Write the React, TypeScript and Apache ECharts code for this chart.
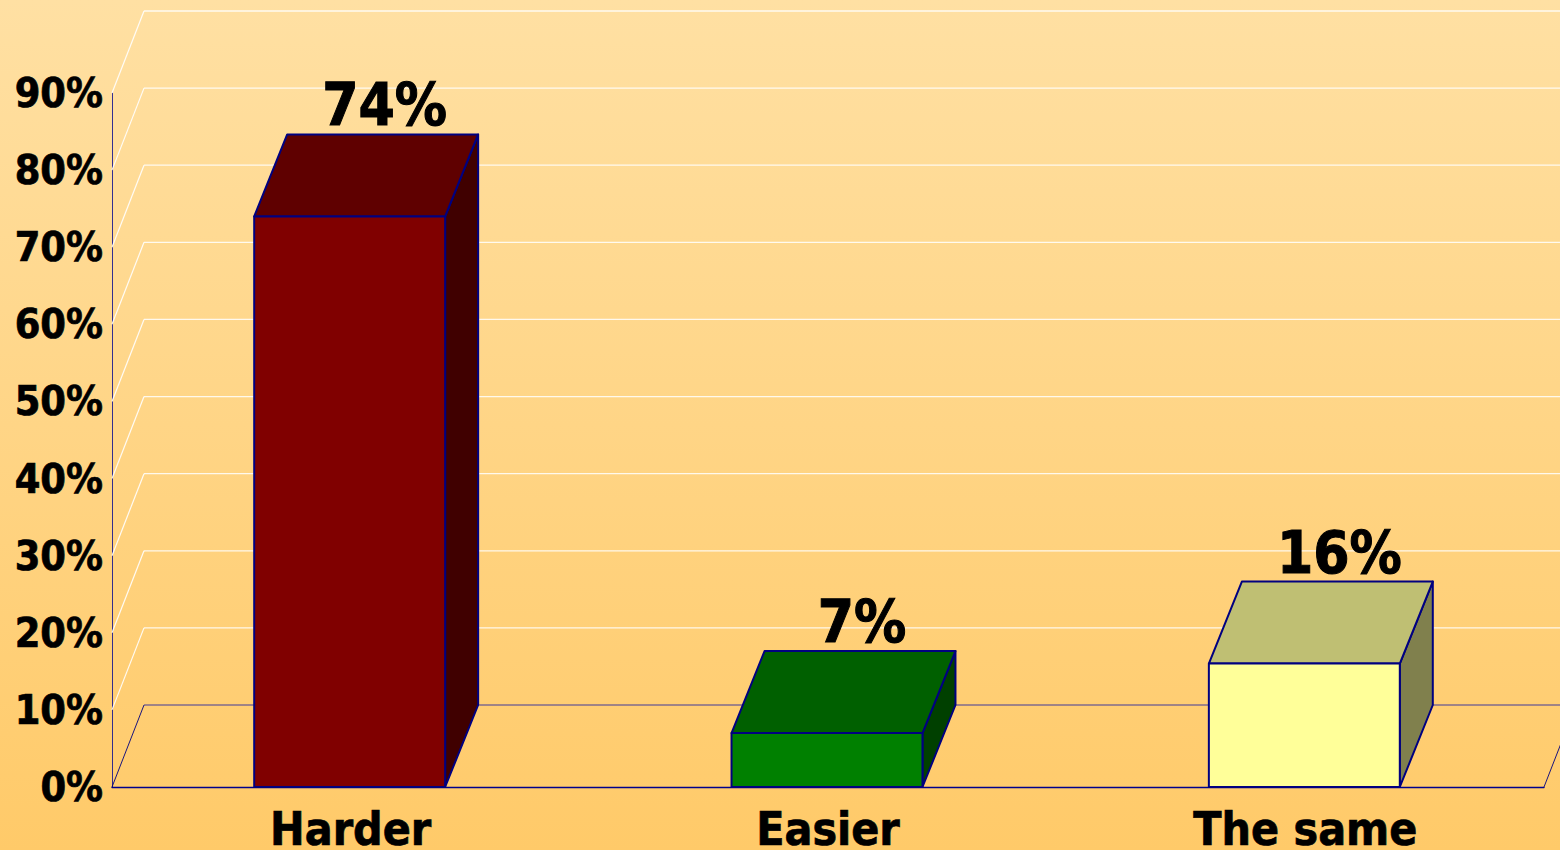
import React, { useEffect, useRef } from "react";
import * as echarts from "echarts";

const categories = ["Harder", "Easier", "The same"];
const values = [74, 7, 16];
const yTicks = [0, 10, 20, 30, 40, 50, 60, 70, 80, 90];

const frontColors = ["#800000", "#008000", "#FFFF99"];
const topColors = ["#5F0000", "#006000", "#BFBF73"];
const sideColors = ["#400000", "#004000", "#80804D"];

const NAVY = "#000080";
const FONT = "'DejaVu Sans Condensed', 'DejaVu Sans', sans-serif";
const DEPTH_X = 32;
const DEPTH_Y = 82;
const BAR_DEPTH_X = 33;
const BAR_NUDGE = -1;
const LABEL_DX = 35;

function renderWall(params: any, api: any) {
  const tick = api.value(0);
  const rect = params.coordSys;
  const x0 = rect.x;
  const x1 = rect.x + rect.width;
  const y = api.coord([0, tick])[1];
  const isFloor = tick === 0;
  const children: any[] = [
    {
      type: "polyline",
      shape: { points: [[x0, y], [x0 + DEPTH_X, y - DEPTH_Y]] },
      style: { stroke: isFloor ? NAVY : "#FFFFFF", lineWidth: isFloor ? 1 : 1.2, fill: "none", opacity: 0.9 },
    },
    {
      type: "polyline",
      shape: { points: [[x0 + DEPTH_X, y - DEPTH_Y], [x1 + DEPTH_X, y - DEPTH_Y]] },
      style: { stroke: isFloor ? "#2020A0" : "#FFFFFF", lineWidth: isFloor ? 1 : 1.3, fill: "none", opacity: 0.85 },
    },
  ];
  if (isFloor) {
    children.push({
      type: "polyline",
      shape: { points: [[x1, y], [x1 + DEPTH_X, y - DEPTH_Y]] },
      style: { stroke: NAVY, lineWidth: 1, fill: "none", opacity: 0.9 },
    });
  }
  return { type: "group", children };
}

function renderBar(params: any, api: any) {
  const idx = params.dataIndex;
  const val = api.value(1);
  const centre = api.coord([api.value(0), 0]);
  const top = api.coord([api.value(0), val]);
  const w = api.size([1, 0])[0] * 0.4;
  const xl = centre[0] + BAR_NUDGE - w / 2;
  const xr = xl + w;
  const y0 = centre[1];
  const yt = top[1];
  const edge = { stroke: NAVY, lineWidth: 2, lineJoin: "round" };
  return {
    type: "group",
    children: [
      {
        type: "polygon",
        shape: { points: [[xr, y0], [xr + BAR_DEPTH_X, y0 - DEPTH_Y], [xr + BAR_DEPTH_X, yt - DEPTH_Y], [xr, yt]] },
        style: { fill: sideColors[idx], ...edge },
      },
      {
        type: "polygon",
        shape: { points: [[xl, yt], [xl + BAR_DEPTH_X, yt - DEPTH_Y], [xr + BAR_DEPTH_X, yt - DEPTH_Y], [xr, yt]] },
        style: { fill: topColors[idx], ...edge },
      },
      {
        type: "polygon",
        shape: { points: [[xl, y0], [xl, yt], [xr, yt], [xr, y0]] },
        style: { fill: frontColors[idx], ...edge },
      },
      {
        type: "text",
        style: {
          text: `${val}%`,
          x: centre[0] + BAR_NUDGE + LABEL_DX,
          y: yt - DEPTH_Y,
          textAlign: "center",
          textVerticalAlign: "bottom",
          fontFamily: FONT,
          fontWeight: "bold",
          fontSize: 58,
          fill: "#000000",
          stroke: "#000000",
          lineWidth: 1,
        },
      },
    ],
  };
}

export default function App() {
  const ref = useRef<HTMLDivElement>(null);
  useEffect(() => {
    document.body.style.margin = "0";
    document.body.style.overflow = "hidden";
    const chart = echarts.init(ref.current!, null, { renderer: "svg" });
    chart.setOption({
      animation: false,
      backgroundColor: new echarts.graphic.LinearGradient(0, 0, 0, 1, [
        { offset: 0, color: "#FFE0A3" },
        { offset: 1, color: "#FFCA69" },
      ]),
      grid: { left: 112, right: 16, top: 93, bottom: 63, containLabel: false, outerBoundsMode: "none" },
      xAxis: {
        type: "category",
        data: categories,
        axisLine: { show: true, onZero: false, lineStyle: { color: "#00008C", width: 1.4 } },
        axisTick: { show: false },
        axisLabel: {
          margin: 22,
          lineHeight: 40,
          interval: 0,
          color: "#000",
          fontFamily: FONT,
          fontWeight: "bold",
          fontSize: 46,
          textBorderColor: "#000",
          textBorderWidth: 0.7,
        },
      },
      yAxis: {
        type: "value",
        min: 0,
        max: 90,
        interval: 10,
        axisLine: { show: true, lineStyle: { color: "#101090", width: 1, opacity: 0.85 } },
        axisTick: { show: false },
        splitLine: { show: false },
        axisLabel: {
          margin: 9,
          padding: [2, 0, 0, 0],
          color: "#000",
          fontFamily: FONT,
          fontWeight: "bold",
          fontSize: 41,
          textBorderColor: "#000",
          textBorderWidth: 0.7,
          formatter: "{value}%",
        },
      },
      series: [
        {
          type: "custom",
          name: "walls",
          renderItem: renderWall,
          data: yTicks.map((t) => [t]),
          encode: { y: 0 },
          silent: true,
          z: 1,
        },
        {
          type: "custom",
          name: "bars",
          renderItem: renderBar,
          data: values.map((v, i) => [i, v]),
          encode: { x: 0, y: 1 },
          z: 2,
        },
      ],
    });
    return () => chart.dispose();
  }, []);
  return <div ref={ref} style={{ position: "absolute", left: 0, top: 0, width: 1560, height: 850 }} />;
}
